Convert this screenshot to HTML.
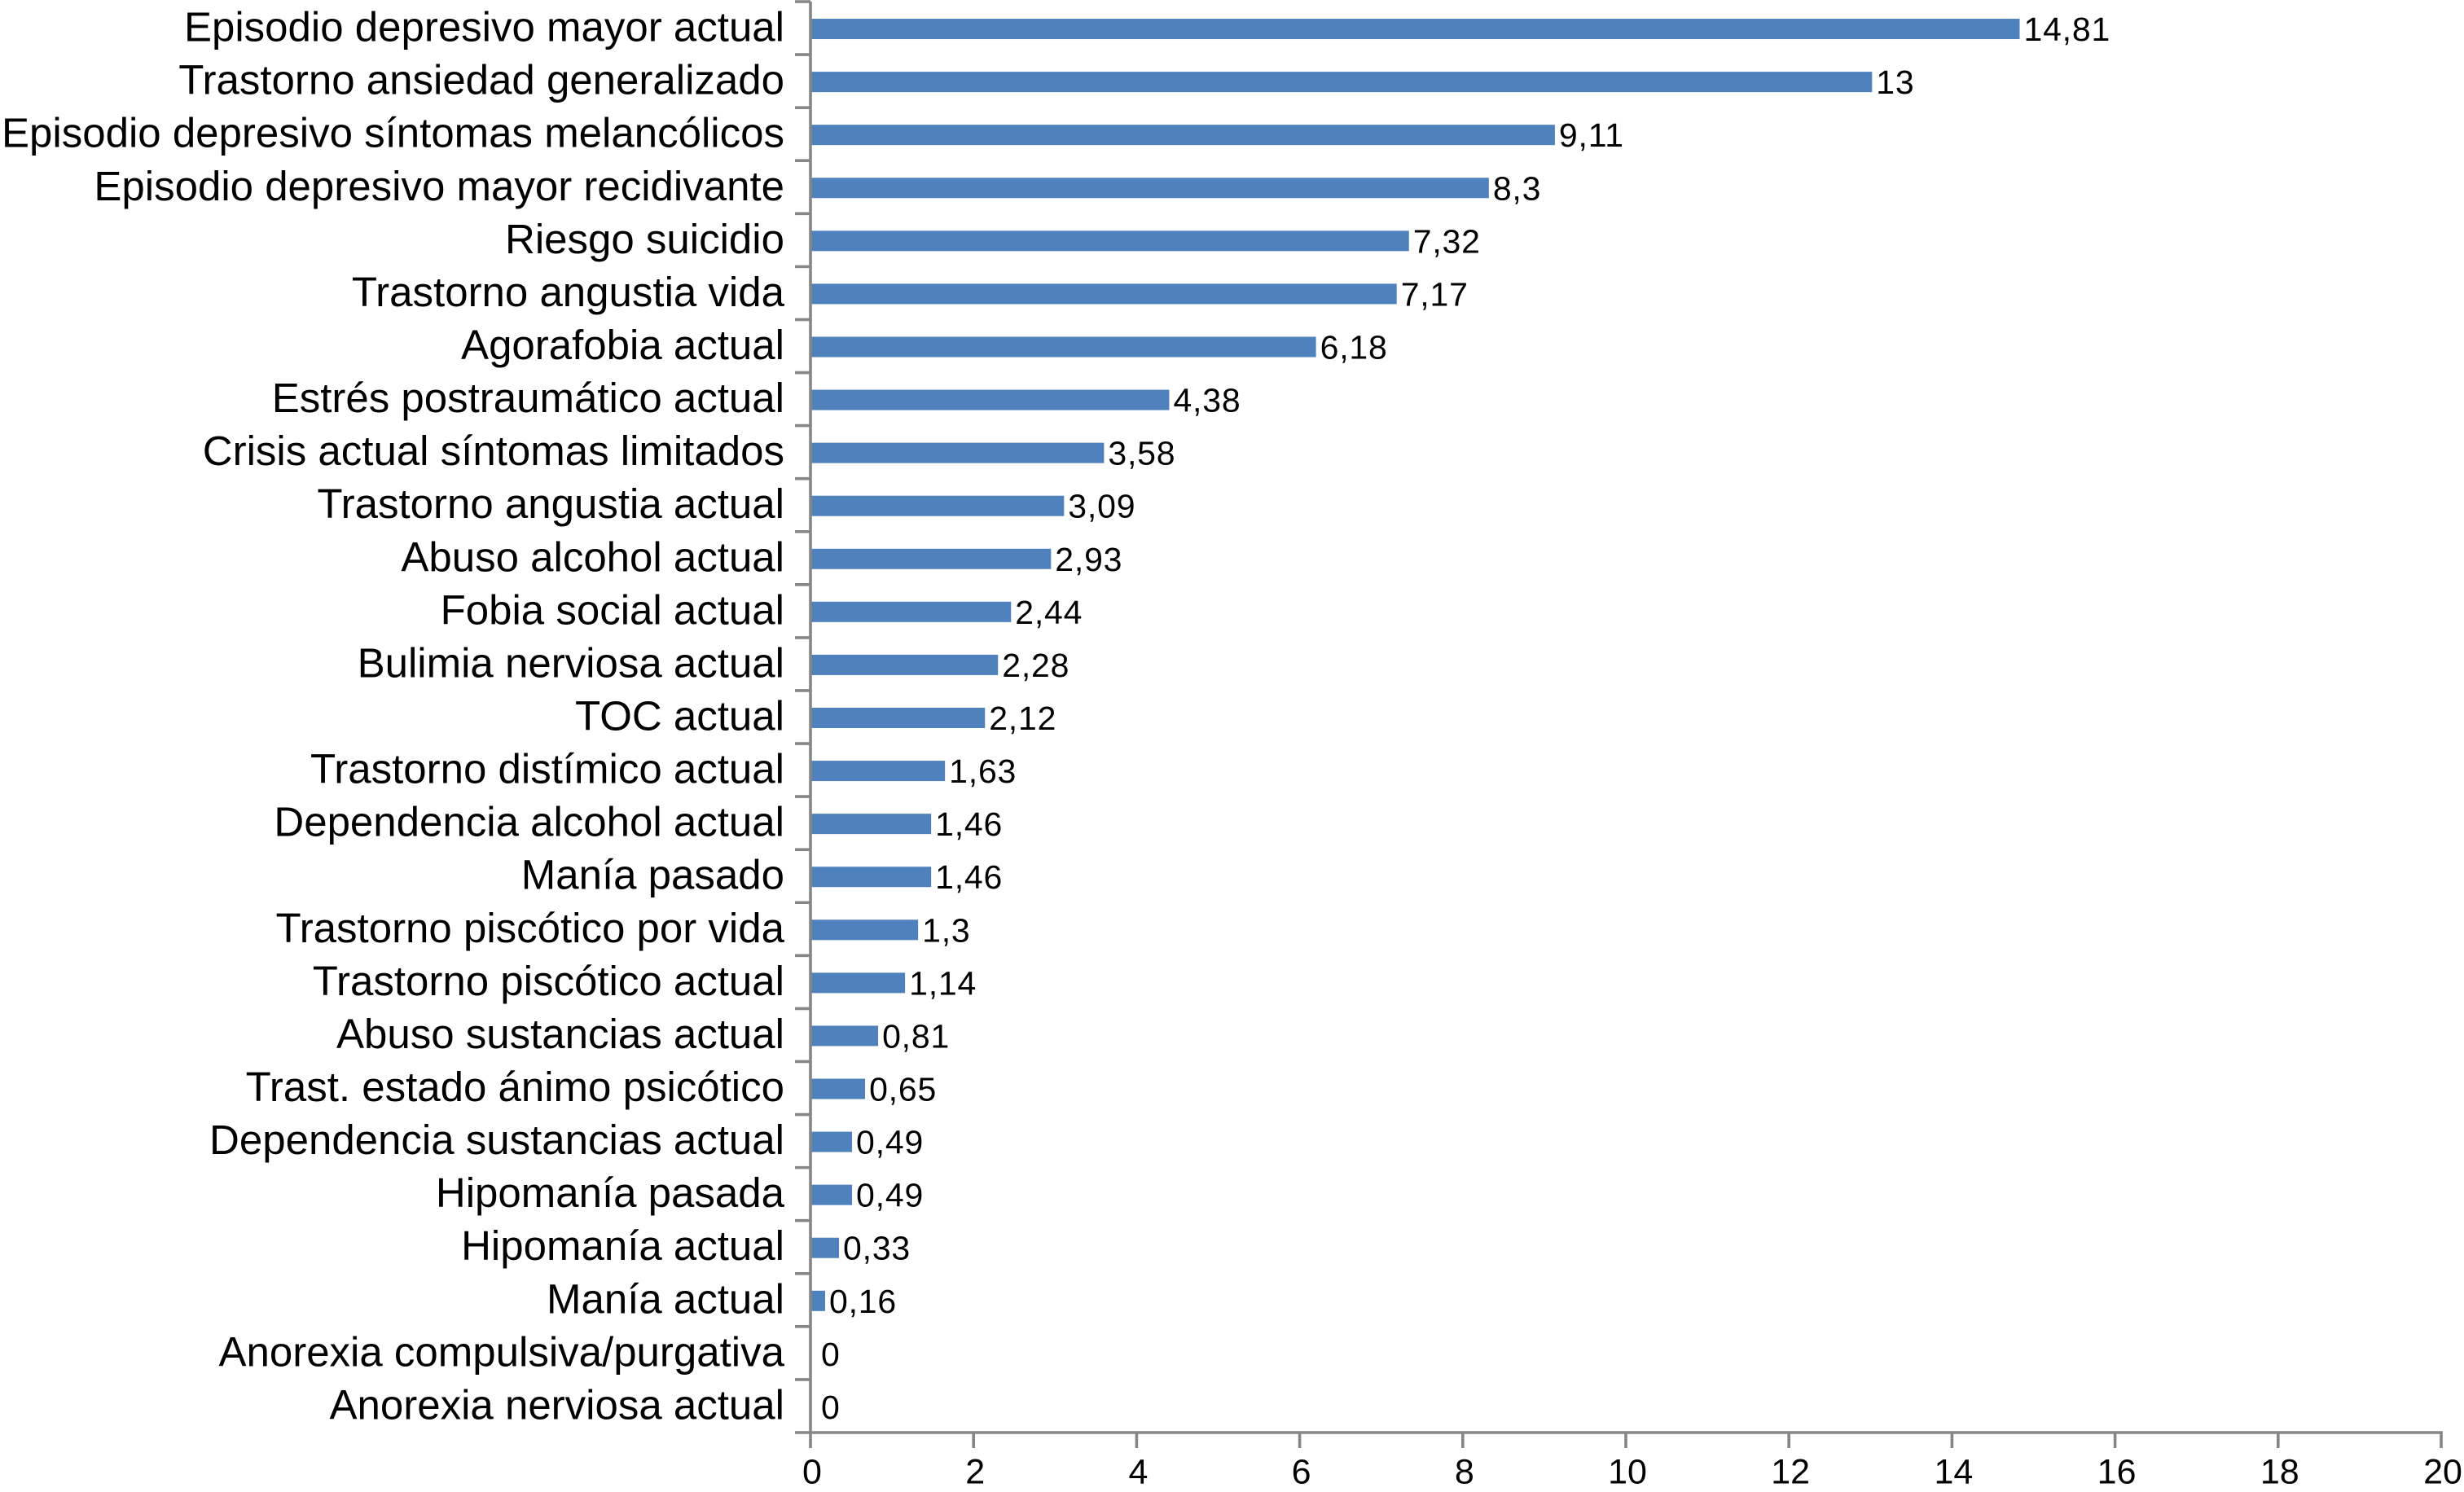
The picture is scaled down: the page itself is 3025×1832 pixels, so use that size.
<!DOCTYPE html>
<html lang="es">
<head>
<meta charset="utf-8">
<title>Bar chart</title>
<style>
html,body{margin:0;padding:0;background:#fff;}
svg{display:block;}
text{font-family:"Liberation Sans",Arial,sans-serif;fill:#000;}
</style>
</head>
<body>
<svg id="chart" xmlns="http://www.w3.org/2000/svg" width="3025" height="1832" viewBox="0 0 3025 1832">
<rect x="0" y="0" width="3025" height="1832" fill="#ffffff"/>
</svg>
<script>
const categories = ["Episodio depresivo mayor actual","Trastorno ansiedad generalizado","Episodio depresivo síntomas melancólicos","Episodio depresivo mayor recidivante","Riesgo suicidio","Trastorno angustia vida","Agorafobia actual","Estrés postraumático actual","Crisis actual síntomas limitados","Trastorno angustia actual","Abuso alcohol actual","Fobia social actual","Bulimia nerviosa actual","TOC actual","Trastorno distímico actual","Dependencia alcohol actual","Manía pasado","Trastorno piscótico por vida","Trastorno piscótico actual","Abuso sustancias actual","Trast. estado ánimo psicótico","Dependencia sustancias actual","Hipomanía pasada","Hipomanía actual","Manía actual","Anorexia compulsiva/purgativa","Anorexia nerviosa actual"];
const seriesValues = [14.81,13,9.11,8.3,7.32,7.17,6.18,4.38,3.58,3.09,2.93,2.44,2.28,2.12,1.63,1.46,1.46,1.3,1.14,0.81,0.65,0.49,0.49,0.33,0.16,0,0];
const xTickLabels = [0,2,4,6,8,10,12,14,16,18,20];

const svg = document.getElementById('chart');
const NS = 'http://www.w3.org/2000/svg';
const plot = {left:995, right:2997, top:2, bottom:1759, xMax:20};
function xScale(v){ return plot.left + v/plot.xMax*(plot.right-plot.left); }
function yBand(i){ return plot.top + i*(plot.bottom-plot.top)/categories.length; }
function yCenter(i){ return yBand(i+0.5); }
function make(tag, props, text){
  const el = document.createElementNS(NS, tag);
  for (const k in props) el.setAttribute(k, props[k]);
  if (text !== undefined) el.textContent = text;
  svg.appendChild(el);
  return el;
}
const axisColor = '#868686';
const axisWidth = 3.6;

seriesValues.forEach(function(v,i){
  const h = 25;
  const bar = make('rect',{x:plot.left, y:yCenter(i)-h/2+1, width:xScale(v)-plot.left+(v>0?2:0), height:h, fill:'#4f81bd'});
  
  
});

const yAxis = make('line',{x1:plot.left,x2:plot.left,y1:plot.top,y2:plot.bottom,stroke:axisColor,'stroke-width':axisWidth});


const xAxis = make('line',{x1:plot.left-19,x2:plot.right+1.8,y1:plot.bottom,y2:plot.bottom,stroke:axisColor,'stroke-width':axisWidth});



for (let i=0;i<categories.length;i++){
  const t = make('line',{x1:plot.left-19,x2:plot.left,y1:yBand(i),y2:yBand(i),stroke:axisColor,'stroke-width':axisWidth});
  
  
}

xTickLabels.forEach(function(v){
  const x = xScale(v);
  const t = make('line',{x1:x,x2:x,y1:plot.bottom,y2:plot.bottom+19,stroke:axisColor,'stroke-width':axisWidth});
  
  
  const l = make('text',{x:x+2,y:1821.5,'text-anchor':'middle','font-size':43},String(v));
  
  
});

categories.forEach(function(c,i){
  const l = make('text',{x:963,y:yCenter(i)+16,'text-anchor':'end','font-size':51},c);
  
  
});

seriesValues.forEach(function(v,i){
  const l = make('text',{x:xScale(v)+7+(v===0?6:0),y:yCenter(i)+15.5,'font-size':41,'letter-spacing':0.8},String(v).replace('.',','));
  
  
});
</script>
</body>
</html>
